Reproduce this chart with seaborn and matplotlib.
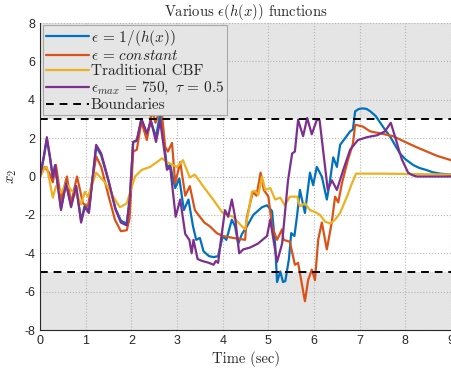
import seaborn as sns
import matplotlib.pyplot as plt
import pandas as pd

# epsilon = 1/(h(x))
t_blue = [0.0, 0.08, 0.15, 0.22, 0.28, 0.33, 0.46, 0.57, 0.68, 0.79, 0.9, 0.98, 1.07, 1.23, 1.34, 1.5,
          1.65, 1.77, 1.9, 1.97, 2.04, 2.12, 2.22, 2.34, 2.43, 2.54, 2.63, 2.67, 2.78, 2.85, 2.96, 3.05,
          3.15, 3.25, 3.35, 3.42, 3.5, 3.58, 3.7, 3.8, 3.9, 4.0, 4.08, 4.2, 4.27, 4.34, 4.42, 4.53, 4.67,
          4.86, 4.97, 5.08, 5.15, 5.19, 5.26, 5.32, 5.37, 5.45, 5.5, 5.57, 5.63, 5.69, 5.8, 5.91, 5.98,
          6.06, 6.17, 6.28, 6.35, 6.42, 6.5, 6.57, 6.79, 6.85, 6.9, 6.98, 7.07, 7.15, 7.23, 7.35, 7.45,
          7.55, 7.66, 7.77, 7.88, 8.0, 8.17, 8.3, 8.47, 8.6, 8.76, 9.0]
x_blue = [0.0, 0.95, 1.95, 0.95, -0.05, 0.55, -1.65, -0.35, -1.5, -0.5, -2.3, -1.5, -1.8, 1.55, 1.1, -0.25,
          -1.65, -2.3, -2.45, -1.0, 1.8, 1.85, 3.0, 2.2, 2.85, 2.05, 3.3, 2.6, 0.5, 0.6, -0.6, -0.1,
          -1.75, -1.2, -2.6, -3.3, -3.2, -3.9, -4.15, -4.2, -4.15, -3.1, -3.3, -2.25, -2.6, -3.5, -3.0, -2.6, -2.0,
          -1.6, -1.5, -1.8, -3.6, -5.5, -4.95, -5.5, -5.45, -4.3, -2.95, -3.1, -2.0, -0.7, -1.9, 0.2, -0.45,
          0.5, 0.0, -1.2, -0.2, 1.0, 0.5, 1.65, 2.35, 2.45, 3.4, 3.52, 3.55, 3.52, 3.4, 3.15, 2.8,
          2.45, 2.1, 1.65, 1.2, 0.9, 0.6, 0.45, 0.33, 0.22, 0.15, 0.1]

# epsilon = constant
t_orange = [0.0, 0.1, 0.2, 0.28, 0.35, 0.46, 0.59, 0.68, 0.81, 0.94, 1.05, 1.23, 1.34, 1.5, 1.64, 1.77,
            1.9, 1.96, 2.04, 2.12, 2.22, 2.34, 2.45, 2.53, 2.65, 2.74, 2.8, 2.89, 2.96, 3.07, 3.18, 3.28,
            3.39, 3.5, 3.6, 3.72, 3.87, 4.0, 4.23, 4.49, 4.53, 4.66, 4.74, 4.83, 4.9, 5.0, 5.08, 5.19,
            5.3, 5.33, 5.47, 5.58, 5.65, 5.8, 5.87, 5.95, 6.02, 6.09, 6.17, 6.28, 6.39, 6.46, 6.53, 6.61,
            6.74, 6.85, 6.9, 7.07, 7.23, 7.45, 7.73, 8.04, 8.25, 8.47, 8.7, 9.0]
x_orange = [0.0, 0.5, 0.2, -0.3, 0.6, -1.2, 0.0, -1.4, 0.0, -1.4, -1.55, 1.05, 0.5, -1.0, -2.25, -2.85,
            -2.8, -2.2, 1.3, 1.4, 2.85, 1.9, 3.45, 2.8, 3.7, 1.55, 1.3, 1.75, -0.35, 0.75, -1.0, -0.5,
            -1.75, -2.1, -2.4, -2.6, -2.95, -3.1, -3.2, -3.3, -2.1, -0.8, -1.0, 0.2, -0.7, -1.05, -2.6, -3.3,
            -2.75, -3.3, -3.4, -4.6, -4.5, -6.5, -5.4, -4.85, -5.4, -3.3, -2.4, -3.8, -2.35, -1.05, -1.35, -0.35,
            0.85, 1.7, 2.7, 2.6, 2.35, 2.25, 2.1, 1.75, 1.52, 1.3, 1.07, 0.85]

# Traditional CBF
t_yellow = [0.0, 0.1, 0.15, 0.28, 0.35, 0.46, 0.57, 0.68, 0.83, 0.9, 0.98, 1.05, 1.23, 1.42, 1.64, 1.75,
            1.9, 1.97, 2.08, 2.23, 2.41, 2.56, 2.67, 2.78, 3.0, 3.13, 3.28, 3.39, 3.57, 3.79, 4.0, 4.23,
            4.38, 4.49, 4.56, 4.64, 4.7, 4.78, 4.86, 4.93, 5.04, 5.15, 5.26, 5.36, 5.47, 5.63, 5.69, 5.8,
            5.91, 6.02, 6.13, 6.24, 6.35, 6.46, 6.57, 6.72, 6.83, 6.92, 7.5, 9.0]
x_yellow = [0.0, 0.45, 0.5, -1.1, -0.5, -0.85, -0.35, -0.7, -1.05, -1.45, -0.8, -1.05, 0.2, -0.3, -1.2, -1.6,
            -1.4, -0.85, 0.0, 0.35, 0.5, 0.75, 0.95, 0.75, 0.5, 0.85, -0.05, 0.1, -0.5, -1.2, -1.9, -2.1,
            -2.5, -2.75, -1.9, -0.8, -0.75, -0.95, 0.0, -0.7, -0.6, -1.2, -1.1, -1.5, -1.05, -1.05, -1.55, -1.4,
            -1.75, -1.85, -2.0, -2.35, -2.45, -2.25, -1.9, -1.05, -0.35, 0.15, 0.15, 0.1]

# epsilon_max = 750, tau = 0.5
t_purple = [0.0, 0.08, 0.15, 0.22, 0.28, 0.33, 0.46, 0.57, 0.68, 0.79, 0.9, 0.98, 1.07, 1.23, 1.34, 1.5,
            1.65, 1.77, 1.9, 1.97, 2.04, 2.12, 2.22, 2.34, 2.43, 2.54, 2.63, 2.78, 2.85, 2.97, 3.07, 3.18,
            3.27, 3.32, 3.36, 3.45, 3.55, 3.7, 3.8, 3.85, 3.9, 3.95, 4.05, 4.12, 4.2, 4.27, 4.36, 4.45,
            4.6, 4.77, 4.97, 5.04, 5.19, 5.3, 5.43, 5.52, 5.58, 5.65, 5.76, 5.85, 5.95, 6.06, 6.12, 6.3,
            6.39, 6.5, 6.64, 6.79, 6.96, 7.16, 7.38, 7.55, 7.68, 7.77, 7.85, 7.92, 8.0, 8.06, 8.15, 8.25, 9.0]
x_purple = [0.0, 1.0, 2.05, 1.0, -0.05, 0.6, -1.75, -0.35, -1.6, -0.5, -2.4, -1.6, -1.9, 1.65, 1.2, -0.2,
            -1.7, -2.4, -2.55, -1.0, 1.8, 1.9, 3.0, 2.25, 2.9, 1.8, 2.9, 0.35, 0.5, -2.1, -1.2, -3.0,
            -3.3, -4.0, -3.3, -4.3, -4.4, -4.5, -4.6, -4.4, -4.5, -3.5, -1.75, -2.1, -1.2, -2.1, -4.0, -3.8,
            -3.7, -3.5, -3.1, -2.25, -4.45, -3.5, -0.2, 1.2, 1.3, 2.95, 2.1, 3.05, 2.2, 2.95, 2.95, -0.7,
            -0.2, -0.7, 0.35, 1.4, 1.9, 2.05, 2.15, 2.35, 2.8, 2.1, 1.45, 0.9, 0.5, 0.2, 0.07, 0.0, 0.0]

labels = [r"$\epsilon\,=\,1/(h(x))$", r"$\epsilon\,=\,constant$", "Traditional CBF",
          r"$\epsilon_{max}\,=\,750,\ \tau\,=\,0.5$"]
colors = ["#0072BD", "#D95319", "#EDB120", "#7E2F8E"]
bounds = [3, -5]

sns.set_style("white")
plt.rcParams["font.family"] = ["Liberation Sans", "DejaVu Sans"]
plt.rcParams["mathtext.fontset"] = "cm"

f, ax = plt.subplots(figsize=(4.52, 3.74), dpi=100)
f.subplots_adjust(left=0.0885, right=0.998, top=0.9385, bottom=0.1176)

ax.set_axisbelow(True)
ax.axhspan(bounds[0], 8, color="#e5e5e5", zorder=0, lw=0)
ax.axhspan(-8, bounds[1], color="#e5e5e5", zorder=0, lw=0)

series = [(t_blue, x_blue), (t_orange, x_orange), (t_yellow, x_yellow), (t_purple, x_purple)]
for (t, x), lab, c in zip(series, labels, colors):
    df = pd.DataFrame({"t": t, "x2": x})
    sns.lineplot(data=df, x="t", y="x2", color=c, linewidth=1.6, label=lab,
                 estimator=None, sort=False, ax=ax)

ax.axhline(bounds[0], color="black", ls=(0, (4, 3)), lw=1.4, label="Boundaries")
ax.axhline(bounds[1], color="black", ls=(0, (4, 3)), lw=1.4)

ax.set_xlim(0, 9)
ax.set_ylim(-8, 8)
ax.set_xticks(range(0, 10))
ax.set_yticks(range(-8, 9, 2))
ax.set_yticklabels([str(v) for v in range(-8, 9, 2)])
ax.tick_params(direction="in", length=4, width=0.7, labelsize=9, colors="#262626")
ax.grid(True, linestyle=":", color="#b5b5b5", linewidth=0.8)
for s in ["top", "right"]:
    ax.spines[s].set_visible(False)
for s in ["left", "bottom"]:
    ax.spines[s].set_color("#262626")
    ax.spines[s].set_linewidth(0.8)

ax.set_title(r"Various $\epsilon(h(x))$ functions", fontfamily="cmr10", fontsize=10.5, pad=5)
ax.set_xlabel("Time (sec)", fontfamily="cmr10", fontsize=10.5, labelpad=3)
ax.set_ylabel(r"$x_2$", fontsize=10.5, labelpad=4)

leg = ax.legend(loc="upper left", bbox_to_anchor=(0.003, 1.0), borderaxespad=0.1,
                prop={"family": "cmr10", "size": 11}, handlelength=2.8, handletextpad=0.15,
                labelspacing=0.1, borderpad=0.2, fancybox=False, framealpha=1,
                facecolor="#e5e5e5", edgecolor="#a8a8a8")
leg.get_frame().set_linewidth(0.8)

plt.savefig("out.png", dpi=100)
